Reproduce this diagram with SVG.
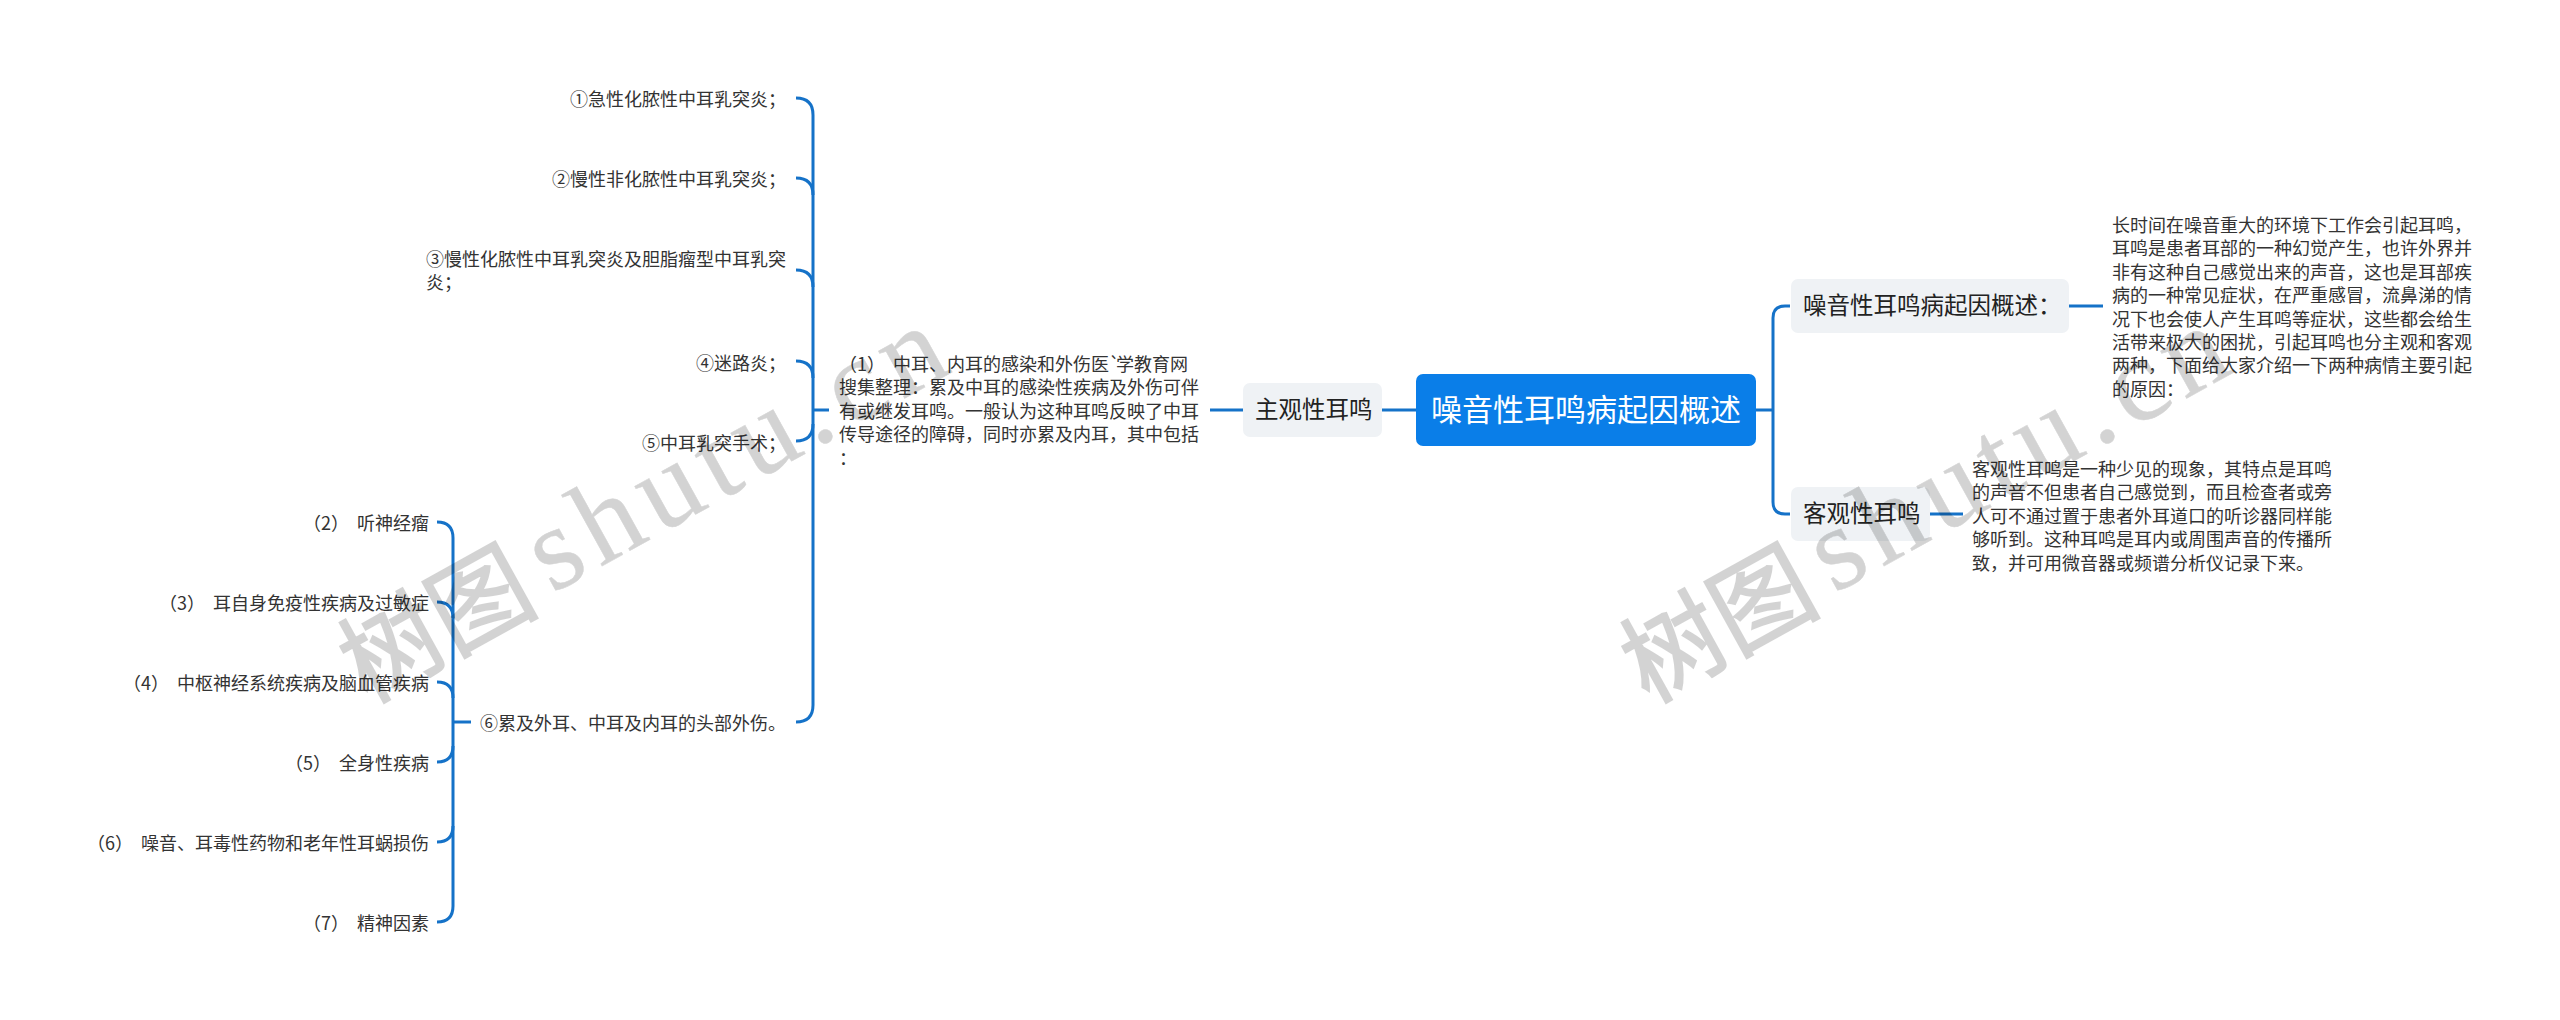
<svg xmlns="http://www.w3.org/2000/svg" width="2560" height="1020" viewBox="0 0 2560 1020">
<style>
text{font-family:"Noto Sans CJK SC","Liberation Sans",sans-serif;fill:#333;white-space:pre}
.t18{font-size:18px}
.end{text-anchor:end}
.t24{font-size:23.5px;fill:#222}
.root{font-size:31px;fill:#fff;text-anchor:middle}
.box{fill:#eff2f5}
.wire{fill:none;stroke:#1572c8;stroke-width:3;stroke-linecap:butt}
.wm{fill:#000;stroke:#000;opacity:.17}
.wc{font-size:100px;stroke-width:2}
.wl{font-family:"Liberation Serif",serif;font-size:118px;letter-spacing:9px;stroke-width:.5}
</style>
<rect width="2560" height="1020" fill="#fff"/>
<g id="connectors" class="wire">
<path d="M1382 410H1416"/>
<path d="M1756 410H1773M1790 306H1785Q1773 306 1773 318V502Q1773 514 1785 514H1790"/>
<path d="M2069 306H2103"/>
<path d="M1930 514H1963"/>
<path d="M1210 410H1243"/>
<path d="M829 410H813"/>
<path d="M796 98Q813 98 813 115V705Q813 722 796 722"/>
<path d="M796 178Q813 178 813 195"/>
<path d="M796 270Q813 270 813 287"/>
<path d="M796 361Q813 361 813 378"/>
<path d="M796 441Q813 441 813 424"/>
<path d="M471 722H453"/>
<path d="M437 522Q453 522 453 538V906Q453 922 437 922"/>
<path d="M437 602Q453 602 453 618"/>
<path d="M437 682Q453 682 453 698"/>
<path d="M437 762Q453 762 453 746"/>
<path d="M437 842Q453 842 453 826"/>
</g>
<g id="root"><rect x="1416" y="374" width="340" height="72" rx="7" fill="#0a7ee8"/><text class="root" x="1586" y="421">噪音性耳鸣病起因概述</text></g>
<g id="n-zhuguan"><rect class="box" x="1243" y="383" width="139" height="54" rx="7"/><text class="t24" x="1255" y="418">主观性耳鸣</text></g>
<g id="n-zaoyin"><rect class="box" x="1791" y="279" width="278" height="54" rx="7"/><text class="t24" x="1803" y="314">噪音性耳鸣病起因概述：</text></g>
<g id="n-keguan"><rect class="box" x="1791" y="487" width="139" height="54" rx="7"/><text class="t24" x="1803" y="522">客观性耳鸣</text></g>
<g id="d-zaoyin" class="t18">
<text x="2112" y="232">长时间在噪音重大的环境下工作会引起耳鸣，</text>
<text x="2112" y="255.4">耳鸣是患者耳部的一种幻觉产生，也许外界并</text>
<text x="2112" y="278.8">非有这种自己感觉出来的声音，这也是耳部疾</text>
<text x="2112" y="302.2">病的一种常见症状，在严重感冒，流鼻涕的情</text>
<text x="2112" y="325.6">况下也会使人产生耳鸣等症状，这些都会给生</text>
<text x="2112" y="349">活带来极大的困扰，引起耳鸣也分主观和客观</text>
<text x="2112" y="372.4">两种，下面给大家介绍一下两种病情主要引起</text>
<text x="2112" y="395.8">的原因：</text>
</g>
<g id="d-keguan" class="t18">
<text x="1972" y="476">客观性耳鸣是一种少见的现象，其特点是耳鸣</text>
<text x="1972" y="499.4">的声音不但患者自己感觉到，而且检查者或旁</text>
<text x="1972" y="522.8">人可不通过置于患者外耳道口的听诊器同样能</text>
<text x="1972" y="546.2">够听到。这种耳鸣是耳内或周围声音的传播所</text>
<text x="1972" y="569.6">致，并可用微音器或频谱分析仪记录下来。</text>
</g>
<g id="d-zhonger" class="t18">
<text x="839" y="371">（1）  中耳、内耳的感染和外伤医`<tspan dx="-4">学教育网</tspan></text>
<text x="839" y="394.4">搜集整理：累及中耳的感染性疾病及外伤可伴</text>
<text x="839" y="417.8">有或继发耳鸣。一般认为这种耳鸣反映了中耳</text>
<text x="839" y="441.2">传导途径的障碍，同时亦累及内耳，其中包括</text>
<text x="839" y="464.6">：</text>
</g>
<g id="i1"><text class="t18 end" x="786" y="106">①急性化脓性中耳乳突炎；</text></g>
<g id="i2"><text class="t18 end" x="786" y="186">②慢性非化脓性中耳乳突炎；</text></g>
<g id="i3"><text class="t18" x="426" y="266">③慢性化脓性中耳乳突炎及胆脂瘤型中耳乳突</text><text class="t18" x="426" y="289.4">炎；</text></g>
<g id="i4"><text class="t18 end" x="786" y="369.5">④迷路炎；</text></g>
<g id="i5"><text class="t18 end" x="786" y="450">⑤中耳乳突手术；</text></g>
<g id="i6"><text class="t18 end" x="786" y="729.5">⑥累及外耳、中耳及内耳的头部外伤。</text></g>
<g id="c2"><text class="t18 end" x="429" y="529.5">（2）  听神经瘤</text></g>
<g id="c3"><text class="t18 end" x="429" y="609.5">（3）  耳自身免疫性疾病及过敏症</text></g>
<g id="c4"><text class="t18 end" x="429" y="689.5">（4）  中枢神经系统疾病及脑血管疾病</text></g>
<g id="c5"><text class="t18 end" x="429" y="769.5">（5）  全身性疾病</text></g>
<g id="c6"><text class="t18 end" x="429" y="849.5">（6）  噪音、耳毒性药物和老年性耳蜗损伤</text></g>
<g id="c7"><text class="t18 end" x="429" y="929.5">（7）  精神因素</text></g>
<g id="watermark">
<text class="wm wc" transform="translate(366 704) rotate(-29)">树图</text>
<text class="wm wl" transform="translate(552 594) rotate(-29)">shutu.cn</text>
<text class="wm wc" transform="translate(1648 704) rotate(-29)">树图</text>
<text class="wm wl" transform="translate(1834 594) rotate(-29)">shutu.cn</text>
</g>
</svg>
